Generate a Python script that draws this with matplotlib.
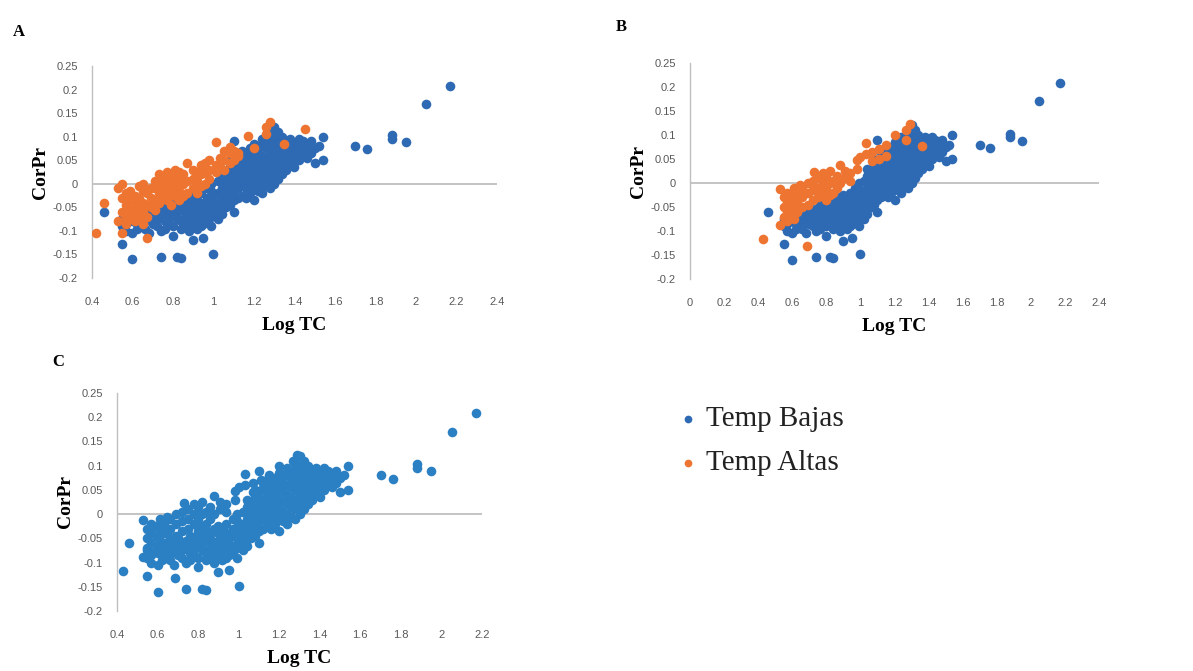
import matplotlib
matplotlib.use("Agg")
import matplotlib.pyplot as plt

# ---------------- data ----------------
bajas_x = [0.46,
    0.55, 0.55, 0.55, 0.57, 0.57,
    0.60, 0.60, 0.60, 0.60, 0.62, 0.62, 0.62, 0.64, 0.64, 0.64,
    0.66, 0.66, 0.66, 0.68, 0.68, 0.68, 0.70, 0.70, 0.70,
    0.72, 0.72, 0.72, 0.74, 0.74, 0.74, 0.74, 0.76, 0.76, 0.76, 0.76,
    0.78, 0.78, 0.78, 0.80, 0.80, 0.80, 0.80, 0.80,
    0.82, 0.82, 0.82, 0.82, 0.84, 0.84, 0.84, 0.84, 0.84,
    0.86, 0.86, 0.86, 0.86, 0.88, 0.88, 0.88, 0.88,
    0.90, 0.90, 0.90, 0.90, 0.90, 0.90, 0.92, 0.92, 0.92, 0.92, 0.92,
    0.94, 0.94, 0.94, 0.94, 0.94, 0.95, 0.95, 0.95,
    0.97, 0.97, 0.97, 0.97, 0.97, 0.99, 0.99, 0.99, 0.99, 0.99, 0.99,
    1.00, 1.00, 1.00, 1.02, 1.02, 1.02, 1.02, 1.02,
    1.04, 1.04, 1.04, 1.04, 1.04, 1.04, 1.06, 1.06, 1.06, 1.06, 1.06,
    1.08, 1.08, 1.08, 1.08, 1.08, 1.08,
    1.10, 1.10, 1.10, 1.10, 1.10, 1.10, 1.10,
    1.12, 1.12, 1.12, 1.12, 1.12, 1.12, 1.14, 1.14, 1.14, 1.14, 1.14, 1.14,
    1.16, 1.16, 1.16, 1.16, 1.16, 1.16, 1.18, 1.18, 1.18, 1.18, 1.18, 1.18,
    1.20, 1.20, 1.20, 1.20, 1.20, 1.20, 1.20, 1.22, 1.22, 1.22, 1.22, 1.22, 1.22,
    1.24, 1.24, 1.24, 1.24, 1.24, 1.24, 1.24, 1.26, 1.26, 1.26, 1.26, 1.26, 1.26,
    1.28, 1.28, 1.28, 1.28, 1.28, 1.28, 1.28,
    1.30, 1.30, 1.30, 1.30, 1.30, 1.30, 1.30, 1.32, 1.32, 1.32, 1.32, 1.32, 1.32,
    1.34, 1.34, 1.34, 1.34, 1.34, 1.36, 1.36, 1.36, 1.36,
    1.38, 1.38, 1.38, 1.38, 1.40, 1.40, 1.40, 1.40, 1.42, 1.42, 1.42, 1.42,
    1.44, 1.44, 1.44, 1.46, 1.46, 1.46, 1.48, 1.48, 1.48,
    1.50, 1.50, 1.52, 1.54, 1.54,
    1.70, 1.76, 1.88, 1.88, 1.95, 2.05, 2.17]
bajas_y = [-0.060,
    -0.128, -0.090, -0.075, -0.085, -0.100,
    -0.160, -0.105, -0.080, -0.065, -0.095, -0.070, -0.085, -0.075, -0.060, -0.090,
    -0.095, -0.065, -0.080, -0.105, -0.070, -0.058, -0.085, -0.065, -0.050,
    -0.075, -0.060, -0.090, -0.155, -0.100, -0.070, -0.055, -0.080, -0.060, -0.045, -0.095,
    -0.070, -0.085, -0.055, -0.110, -0.090, -0.065, -0.050, -0.040,
    -0.155, -0.075, -0.060, -0.045, -0.157, -0.095, -0.080, -0.055, -0.035,
    -0.070, -0.050, -0.085, -0.040, -0.100, -0.060, -0.075, -0.030,
    -0.120, -0.090, -0.070, -0.055, -0.040, -0.025, -0.080, -0.065, -0.050, -0.035, -0.095,
    -0.075, -0.060, -0.040, -0.020, -0.090, -0.115, -0.085, -0.050,
    -0.080, -0.065, -0.045, -0.030, -0.010, -0.090, -0.070, -0.050, -0.035, -0.015, 0.000,
    -0.148, -0.060, -0.025, -0.075, -0.055, -0.040, -0.020, 0.005,
    -0.065, -0.045, -0.030, -0.010, 0.015, 0.030, -0.050, -0.035, -0.015, 0.000, 0.020,
    -0.045, -0.025, -0.005, 0.015, 0.035, 0.050,
    -0.060, -0.035, -0.015, 0.005, 0.025, 0.045, 0.090,
    -0.030, -0.010, 0.010, 0.030, 0.050, 0.065, -0.025, -0.005, 0.015, 0.035, 0.055, 0.070,
    -0.030, -0.010, 0.005, 0.025, 0.045, 0.060, -0.020, 0.000, 0.020, 0.040, 0.060, 0.075,
    -0.035, -0.010, 0.010, 0.030, 0.050, 0.070, 0.085, -0.015, 0.005, 0.025, 0.045, 0.065, 0.080,
    -0.020, 0.000, 0.020, 0.040, 0.060, 0.080, 0.095, -0.005, 0.015, 0.035, 0.055, 0.075, 0.090,
    -0.010, 0.010, 0.030, 0.050, 0.070, 0.090, 0.105,
    0.000, 0.020, 0.040, 0.060, 0.080, 0.100, 0.120, 0.010, 0.030, 0.050, 0.070, 0.090, 0.110,
    0.020, 0.040, 0.060, 0.085, 0.100, 0.030, 0.050, 0.070, 0.090,
    0.040, 0.060, 0.075, 0.095, 0.035, 0.055, 0.070, 0.085, 0.050, 0.065, 0.080, 0.095,
    0.060, 0.075, 0.090, 0.055, 0.070, 0.085, 0.065, 0.080, 0.090,
    0.045, 0.075, 0.080, 0.050, 0.100,
    0.080, 0.073, 0.095, 0.103, 0.088, 0.170, 0.208]

altas_a_x = [0.42, 0.46, 0.53, 0.53,
    0.55, 0.55, 0.55, 0.55, 0.57, 0.57, 0.57, 0.57, 0.59, 0.59, 0.59, 0.59,
    0.61, 0.61, 0.61, 0.61, 0.63, 0.63, 0.63, 0.63, 0.65, 0.65, 0.65, 0.65, 0.65,
    0.67, 0.67, 0.67, 0.67, 0.69, 0.69, 0.69, 0.71, 0.71, 0.71, 0.71,
    0.73, 0.73, 0.73, 0.73, 0.75, 0.75, 0.75, 0.77, 0.77, 0.77, 0.77,
    0.79, 0.79, 0.79, 0.79, 0.81, 0.81, 0.81, 0.81, 0.83, 0.83, 0.83, 0.83,
    0.85, 0.85, 0.85, 0.87, 0.87, 0.87, 0.90, 0.90, 0.90, 0.92, 0.92, 0.92,
    0.94, 0.94, 0.94, 0.96, 0.96, 0.96, 0.98, 0.98, 0.98,
    1.01, 1.01, 1.01, 1.03, 1.03, 1.05, 1.05, 1.05, 1.08, 1.08, 1.08,
    1.10, 1.10, 1.12, 1.12, 1.17, 1.20, 1.26, 1.26, 1.28, 1.35, 1.45]
altas_a_y = [-0.105, -0.040, -0.080, -0.010,
    -0.105, -0.060, -0.030, 0.000, -0.085, -0.070, -0.045, -0.020, -0.075, -0.055, -0.035, -0.015,
    -0.080, -0.060, -0.040, -0.025, -0.070, -0.050, -0.030, -0.005, -0.085, -0.060, -0.040, -0.015, 0.000,
    -0.115, -0.070, -0.045, -0.020, -0.050, -0.030, -0.010, -0.055, -0.035, -0.010, 0.005,
    -0.040, -0.020, 0.000, 0.020, -0.030, -0.010, 0.015, -0.035, -0.015, 0.005, 0.025,
    -0.045, -0.020, 0.000, 0.020, -0.025, -0.005, 0.015, 0.030, -0.035, -0.015, 0.010, 0.025,
    -0.025, 0.000, 0.020, -0.020, 0.005, 0.045, -0.010, 0.010, 0.030, -0.020, 0.005, 0.025,
    -0.005, 0.020, 0.040, 0.000, 0.025, 0.045, 0.010, 0.030, 0.050,
    0.025, 0.040, 0.088, 0.035, 0.055, 0.030, 0.050, 0.070, 0.045, 0.065, 0.079,
    0.050, 0.070, 0.060, 0.066, 0.101, 0.075, 0.120, 0.105, 0.132, 0.085, 0.117]

altas_b_x = [0.43, 0.53, 0.53,
    0.55, 0.55, 0.55, 0.57, 0.57, 0.57, 0.57, 0.59, 0.59, 0.59,
    0.61, 0.61, 0.61, 0.61, 0.63, 0.63, 0.63, 0.645, 0.66, 0.66, 0.66,
    0.685, 0.69, 0.69, 0.69, 0.72, 0.72, 0.72, 0.73,
    0.75, 0.75, 0.75, 0.78, 0.78, 0.78, 0.80, 0.80, 0.80, 0.82, 0.82, 0.82,
    0.84, 0.84, 0.86, 0.86, 0.88, 0.88, 0.91, 0.91, 0.94, 0.94,
    0.98, 0.98, 1.00, 1.03, 1.03, 1.07, 1.07, 1.11, 1.11, 1.15, 1.15,
    1.20, 1.27, 1.27, 1.29, 1.36]
altas_b_y = [-0.117, -0.088, -0.012,
    -0.070, -0.050, -0.030, -0.080, -0.060, -0.040, -0.020, -0.065, -0.045, -0.025,
    -0.075, -0.055, -0.035, -0.010, -0.060, -0.040, -0.020, -0.005, -0.050, -0.030, -0.010,
    -0.131, -0.045, -0.020, 0.000, -0.035, -0.015, 0.005, 0.023,
    -0.030, -0.010, 0.010, -0.020, 0.000, 0.020, -0.035, -0.010, 0.015, -0.025, 0.000, 0.025,
    -0.020, 0.005, -0.010, 0.015, 0.037, 0.000, 0.010, 0.025, 0.005, 0.020,
    0.047, 0.030, 0.055, 0.083, 0.060, 0.045, 0.065, 0.071, 0.050, 0.057, 0.080,
    0.099, 0.110, 0.090, 0.123, 0.078]

labels = ["Temp Bajas", "Temp Altas"]
y_ticks = [-0.2, -0.15, -0.1, -0.05, 0, 0.05, 0.1, 0.15, 0.2, 0.25]

# ---------------- styling ----------------
BLUE = "#2D6AB3"
BLUE_C = "#2A80C3"
ORANGE = "#EE7431"
GRID = "#BFBFBF"
TICKC = "#595959"
SERIF = ["Liberation Serif", "DejaVu Serif"]
SANS = ["Liberation Sans", "DejaVu Sans"]
MS = 48

W, H = 1193, 671
fig = plt.figure(figsize=(W / 100, H / 100), dpi=100)


def px_axes(l, r, t, b):
    return fig.add_axes([l / W, 1 - b / H, (r - l) / W, (b - t) / H])


def fmt(v):
    s = ("%.2f" % v).rstrip("0").rstrip(".")
    if s == "-0":
        s = "0"
    return s


def style(ax, xmin, xmax, xstep_count):
    ax.set_xlim(xmin, xmax)
    ax.set_ylim(-0.2, 0.25)
    xt = [round(xmin + 0.2 * i, 2) for i in range(xstep_count)]
    ax.set_xticks(xt)
    ax.set_xticklabels([fmt(v) for v in xt])
    ax.set_yticks(y_ticks)
    ax.set_yticklabels([fmt(v) for v in y_ticks])
    for s in ["top", "right", "bottom"]:
        ax.spines[s].set_visible(False)
    ax.spines["left"].set_color(GRID)
    ax.spines["left"].set_linewidth(1.0)
    ax.axhline(0, color=GRID, lw=1.3, zorder=1)
    ax.tick_params(axis="both", length=0, labelsize=8, labelcolor=TICKC)
    ax.tick_params(axis="x", pad=14)
    ax.tick_params(axis="y", pad=10)
    for t in ax.get_xticklabels() + ax.get_yticklabels():
        t.set_family(SANS)
    ax.set_xlabel("Log TC", family=SERIF, fontsize=14, fontweight="bold", labelpad=7)
    ax.set_ylabel("CorPr", family=SERIF, fontsize=14, fontweight="bold", labelpad=3)
    ax.set_facecolor("none")


# Panel A
axA = px_axes(92, 497, 66, 278)
hb = axA.scatter(bajas_x, bajas_y, s=MS, color=BLUE, lw=0, zorder=2)
ho = axA.scatter(altas_a_x, altas_a_y, s=MS, color=ORANGE, lw=0, zorder=3)
style(axA, 0.4, 2.4, 11)

# Panel B
axB = px_axes(690, 1099, 63, 279)
axB.scatter(bajas_x, bajas_y, s=MS, color=BLUE, lw=0, zorder=2)
axB.scatter(altas_b_x, altas_b_y, s=MS, color=ORANGE, lw=0, zorder=3)
style(axB, 0.0, 2.4, 13)

# Panel C (all points, one colour)
axC = px_axes(117, 482, 393, 611)
axC.scatter(bajas_x + altas_b_x, bajas_y + altas_b_y, s=MS, color=BLUE_C, lw=0, zorder=2)
style(axC, 0.4, 2.2, 10)

# Panel letters
fig.text(13 / W, 1 - 32 / H, "A", family=SERIF, fontsize=12, fontweight="bold", va="center")
fig.text(616 / W, 1 - 27 / H, "B", family=SERIF, fontsize=12, fontweight="bold", va="center")
fig.text(52 / W, 1 - 362 / H, "C", family=SERIF, fontsize=12, fontweight="bold", va="center")

# Legend
fig.legend([hb, ho], labels, loc="upper left", bbox_to_anchor=(679 / W, 1 - 406 / H),
           frameon=False, prop={"family": SERIF, "size": 21}, handlelength=0.6,
           handletextpad=0.33, labelspacing=0.6, borderpad=0, borderaxespad=0,
           markerscale=0.8, scatterpoints=1, labelcolor="#222222")

fig.savefig("out.png", dpi=100, facecolor="white")
